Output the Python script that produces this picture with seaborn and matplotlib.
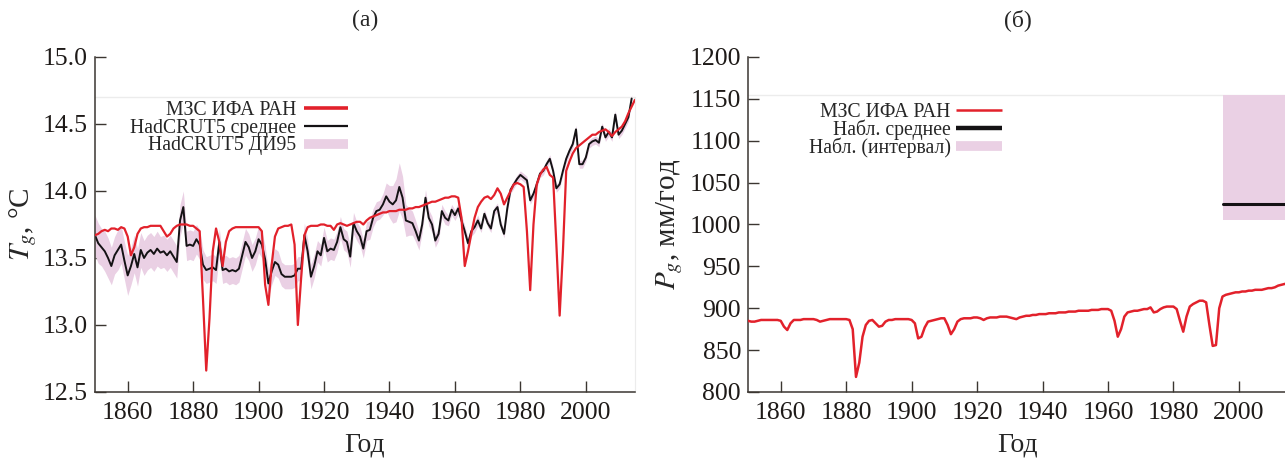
import numpy as np
import matplotlib
matplotlib.use("Agg")
import matplotlib.pyplot as plt
from matplotlib.lines import Line2D
import seaborn as sns

# ---------------- data ----------------
years_t = list(range(1850, 2016))

# model global temperature, deg C
t_model = [
    13.67, 13.68, 13.70, 13.71, 13.70, 13.72, 13.72, 13.71, 13.73, 13.72,
    13.66, 13.52, 13.58, 13.68, 13.72, 13.73, 13.73, 13.74, 13.74, 13.74,
    13.74, 13.70, 13.66, 13.68, 13.72, 13.74, 13.75, 13.75, 13.75, 13.74,
    13.74, 13.72, 13.70, 13.20, 12.66, 13.05, 13.55, 13.72, 13.62, 13.44,
    13.62, 13.70, 13.72, 13.73, 13.73, 13.73, 13.73, 13.73, 13.73, 13.73,
    13.73, 13.70, 13.30, 13.15, 13.45, 13.66, 13.72, 13.73, 13.74, 13.74,
    13.75, 13.60, 13.00, 13.35, 13.67, 13.73, 13.74, 13.74, 13.74, 13.75,
    13.75, 13.74, 13.74, 13.71, 13.75, 13.76, 13.75, 13.74, 13.75, 13.76,
    13.77, 13.77, 13.75, 13.78, 13.80, 13.81, 13.82, 13.83, 13.84, 13.84,
    13.85, 13.85, 13.85, 13.86, 13.86, 13.86, 13.87, 13.87, 13.88, 13.88,
    13.89, 13.90, 13.91, 13.92, 13.92, 13.93, 13.94, 13.95, 13.95, 13.96,
    13.96, 13.95, 13.80, 13.44, 13.55, 13.68, 13.80, 13.88, 13.92, 13.95,
    13.96, 13.94, 13.97, 14.02, 13.98, 13.90, 13.95, 14.00, 14.05, 14.06,
    14.05, 14.03, 13.70, 13.26, 13.75, 14.05, 14.12, 14.16, 14.18, 14.12,
    14.10, 13.60, 13.07, 13.55, 14.15, 14.22, 14.28, 14.32, 14.34, 14.36,
    14.38, 14.40, 14.42, 14.42, 14.44, 14.45, 14.46, 14.44, 14.41, 14.44,
    14.46, 14.48, 14.52, 14.58, 14.63, 14.68,
]

years_obs = list(range(1850, 2015))

# HadCRUT5 ensemble mean, deg C
t_obs = [
    13.67, 13.61, 13.58, 13.55, 13.50, 13.44, 13.52, 13.56, 13.60, 13.48,
    13.37, 13.44, 13.53, 13.43, 13.56, 13.50, 13.54, 13.56, 13.53, 13.57,
    13.54, 13.55, 13.52, 13.55, 13.51, 13.47, 13.78, 13.88, 13.59, 13.60,
    13.59, 13.64, 13.60, 13.45, 13.41, 13.42, 13.43, 13.41, 13.62, 13.41,
    13.42, 13.40, 13.41, 13.40, 13.42, 13.52, 13.62, 13.58, 13.50, 13.55,
    13.64, 13.60, 13.49, 13.31, 13.40, 13.47, 13.45, 13.38, 13.36, 13.36,
    13.36, 13.37, 13.42, 13.42, 13.67, 13.55, 13.36, 13.44, 13.55, 13.52,
    13.65, 13.55, 13.57, 13.56, 13.62, 13.73, 13.64, 13.62, 13.51, 13.76,
    13.70, 13.66, 13.57, 13.70, 13.71, 13.80, 13.85, 13.86, 13.90, 13.96,
    13.92, 13.90, 13.93, 14.03, 13.95, 13.78, 13.77, 13.76, 13.70, 13.63,
    13.75, 13.95, 13.80, 13.75, 13.63, 13.68, 13.85, 13.80, 13.78, 13.86,
    13.82, 13.87, 13.78, 13.70, 13.61, 13.70, 13.73, 13.78, 13.72, 13.83,
    13.76, 13.72, 13.85, 13.88, 13.75, 13.68, 13.87, 14.01, 14.05, 14.09,
    14.12, 14.10, 14.08, 13.93, 13.98, 14.05, 14.13, 14.15, 14.20, 14.24,
    14.15, 14.02, 14.05, 14.15, 14.24, 14.30, 14.35, 14.46, 14.20, 14.20,
    14.25, 14.35, 14.37, 14.38, 14.36, 14.48, 14.40, 14.44, 14.40, 14.57,
    14.42, 14.45, 14.50, 14.55, 14.69,
]

# half-width of the HadCRUT5 95% interval, deg C
t_obs_ci = [
    0.15, 0.15, 0.14, 0.15, 0.15, 0.14, 0.14, 0.15, 0.14, 0.14,
    0.15, 0.14, 0.14, 0.14, 0.13, 0.13, 0.13, 0.13, 0.13, 0.13,
    0.12, 0.12, 0.12, 0.12, 0.12, 0.12, 0.12, 0.12, 0.11, 0.11,
    0.11, 0.11, 0.11, 0.11, 0.10, 0.10, 0.10, 0.10, 0.10, 0.10,
    0.10, 0.10, 0.10, 0.10, 0.10, 0.10, 0.10, 0.10, 0.10, 0.10,
    0.10, 0.10, 0.10, 0.10, 0.10, 0.10, 0.10, 0.09, 0.09, 0.09,
    0.09, 0.09, 0.09, 0.09, 0.09, 0.09, 0.09, 0.09, 0.08, 0.08,
    0.08, 0.08, 0.08, 0.08, 0.08, 0.08, 0.08, 0.08, 0.08, 0.08,
    0.07, 0.07, 0.07, 0.07, 0.07, 0.07, 0.07, 0.07, 0.08, 0.10,
    0.12, 0.14, 0.16, 0.18, 0.16, 0.12, 0.10, 0.09, 0.08, 0.07,
    0.06, 0.06, 0.06, 0.06, 0.05, 0.05, 0.05, 0.05, 0.04, 0.04,
    0.04, 0.04, 0.04, 0.04, 0.04, 0.04, 0.04, 0.04, 0.03, 0.03,
    0.03, 0.03, 0.03, 0.03, 0.03, 0.03, 0.03, 0.03, 0.03, 0.03,
    0.03, 0.03, 0.03, 0.03, 0.03, 0.03, 0.03, 0.03, 0.03, 0.03,
    0.03, 0.03, 0.03, 0.03, 0.03, 0.03, 0.03, 0.03, 0.03, 0.03,
    0.03, 0.03, 0.03, 0.03, 0.03, 0.03, 0.03, 0.03, 0.03, 0.03,
    0.03, 0.03, 0.03, 0.03, 0.03,
]

years_p = list(range(1850, 2016))

# model global precipitation, mm/year
p_model = [
    885, 884, 884, 885, 886, 886, 886, 886, 886, 886,
    885, 878, 874, 882, 886, 886, 886, 887, 887, 887,
    887, 886, 884, 885, 886, 887, 887, 887, 887, 887,
    887, 886, 875, 818, 835, 866, 880, 885, 886, 882,
    878, 879, 884, 886, 886, 887, 887, 887, 887, 887,
    886, 882, 864, 866, 877, 884, 885, 886, 887, 888,
    888, 880, 869, 875, 884, 887, 888, 888, 888, 889,
    889, 888, 886, 888, 889, 889, 889, 890, 890, 890,
    889, 888, 887, 889, 890, 891, 891, 892, 892, 893,
    893, 893, 894, 894, 894, 895, 895, 895, 896, 896,
    896, 897, 897, 897, 897, 898, 898, 898, 899, 899,
    899, 897, 885, 866, 875, 890, 895, 896, 897, 897,
    898, 899, 899, 901, 895, 896, 899, 901, 902, 902,
    902, 899, 885, 872, 890, 902, 905, 907, 909, 909,
    907, 880, 855, 856, 900, 914, 916, 917, 918, 919,
    919, 920, 920, 921, 921, 922, 922, 922, 923, 924,
    924, 925, 927, 928, 929, 930,
]

# observed precipitation estimate: period, mean and range, mm/year
p_obs_years = [1995, 2015]
p_obs_mean = [1024, 1024]
p_obs_low = [1005, 1005]
p_obs_high = [1155, 1155]

xticks = [1860, 1880, 1900, 1920, 1940, 1960, 1980, 2000]
t_yticks = [12.5, 13.0, 13.5, 14.0, 14.5, 15.0]
p_yticks = [800, 850, 900, 950, 1000, 1050, 1100, 1150, 1200]

# ---------------- style ----------------
sns.set_style("ticks")
plt.rcParams["font.family"] = ["Liberation Serif", "DejaVu Serif"]
plt.rcParams["mathtext.fontset"] = "stix"
plt.rcParams["axes.edgecolor"] = "#3b3631"
plt.rcParams["xtick.color"] = "#3b3631"
plt.rcParams["ytick.color"] = "#3b3631"
plt.rcParams["xtick.labelcolor"] = "#1e1a18"
plt.rcParams["ytick.labelcolor"] = "#1e1a18"

RED = "#e2212b"
BLACK = "#141214"
PINK = "#ead0e4"
FAINT = "#ececec"

fig = plt.figure(figsize=(12.85, 4.61), dpi=100)
ax1 = fig.add_axes([0.0739, 0.1497, 0.4202, 0.7267])
ax2 = fig.add_axes([0.5821, 0.1497, 0.4202, 0.7267])

# ---------------- panel (a): temperature ----------------
lo = [m - c for m, c in zip(t_obs, t_obs_ci)]
hi = [m + c for m, c in zip(t_obs, t_obs_ci)]
ax1.fill_between(years_obs, lo, hi, color=PINK, lw=0, zorder=1)
sns.lineplot(x=years_obs, y=t_obs, ax=ax1, color=BLACK, lw=1.4, zorder=2)
sns.lineplot(x=years_t, y=t_model, ax=ax1, color=RED, lw=1.6, zorder=3)

ax1.set_xlim(1850, 2015)
ax1.set_ylim(12.5, 15.0)
ax1.set_yticks(t_yticks)
ax1.set_yticklabels([f"{v:.1f}" for v in t_yticks])
ax1.set_ylabel(r"$T_g$, °C", fontsize=21, labelpad=3)
ax1.axhline(14.70, color=FAINT, lw=1.0, zorder=0)
ax1.spines["right"].set_bounds(12.5, 14.70)
ax1.spines["right"].set_color(FAINT)
ax1.spines["top"].set_visible(False)

h1 = [
    Line2D([], [], color=RED, lw=2.6, solid_capstyle="butt"),
    Line2D([], [], color=BLACK, lw=1.6, solid_capstyle="butt"),
    Line2D([], [], color=PINK, lw=7, solid_capstyle="butt"),
]
ax1.legend(h1, ["МЗС ИФА РАН", "HadCRUT5 среднее", "HadCRUT5 ДИ95"],
           loc="upper right", bbox_to_anchor=(0.468, 0.869), frameon=False,
           markerfirst=False, fontsize=14.2, handlelength=2.2,
           handletextpad=0.4, labelspacing=-0.06, borderpad=0,
           borderaxespad=0)
ax1.set_title("(а)", fontsize=17, pad=22)

# ---------------- panel (б): precipitation ----------------
ax2.fill_between(p_obs_years, p_obs_low, p_obs_high, color=PINK, lw=0, zorder=1)
sns.lineplot(x=p_obs_years, y=p_obs_mean, ax=ax2, color=BLACK, lw=2.2, zorder=2)
sns.lineplot(x=years_p, y=p_model, ax=ax2, color=RED, lw=1.8, zorder=3)

ax2.set_xlim(1850, 2015)
ax2.set_ylim(800, 1200)
ax2.set_yticks(p_yticks)
ax2.set_ylabel(r"$P_g$, мм/год", fontsize=21, labelpad=3)
ax2.axhline(1155, color=FAINT, lw=1.0, zorder=0)
ax2.spines["right"].set_visible(False)
ax2.spines["top"].set_visible(False)

h2 = [
    Line2D([], [], color=RED, lw=1.8, solid_capstyle="butt"),
    Line2D([], [], color=BLACK, lw=3.2, solid_capstyle="butt"),
    Line2D([], [], color=PINK, lw=7, solid_capstyle="butt"),
]
ax2.legend(h2, ["МЗС ИФА РАН", "Набл. среднее", "Набл. (интервал)"],
           loc="upper right", bbox_to_anchor=(0.47, 0.864), frameon=False,
           markerfirst=False, fontsize=14.2, handlelength=2.3,
           handletextpad=0.3, labelspacing=-0.12, borderpad=0,
           borderaxespad=0)
ax2.set_title("(б)", fontsize=17, pad=22)

for ax in (ax1, ax2):
    ax.set_xticks(xticks)
    ax.set_xlabel("Год", fontsize=20, labelpad=6)
    ax.tick_params(direction="in", length=8, width=1.0, labelsize=18.5, pad=7)
    ax.tick_params(axis="y", pad=5)
    ax.spines["left"].set_linewidth(1.1)
    ax.spines["bottom"].set_linewidth(1.1)

fig.savefig("out.png", dpi=100, facecolor="white")
